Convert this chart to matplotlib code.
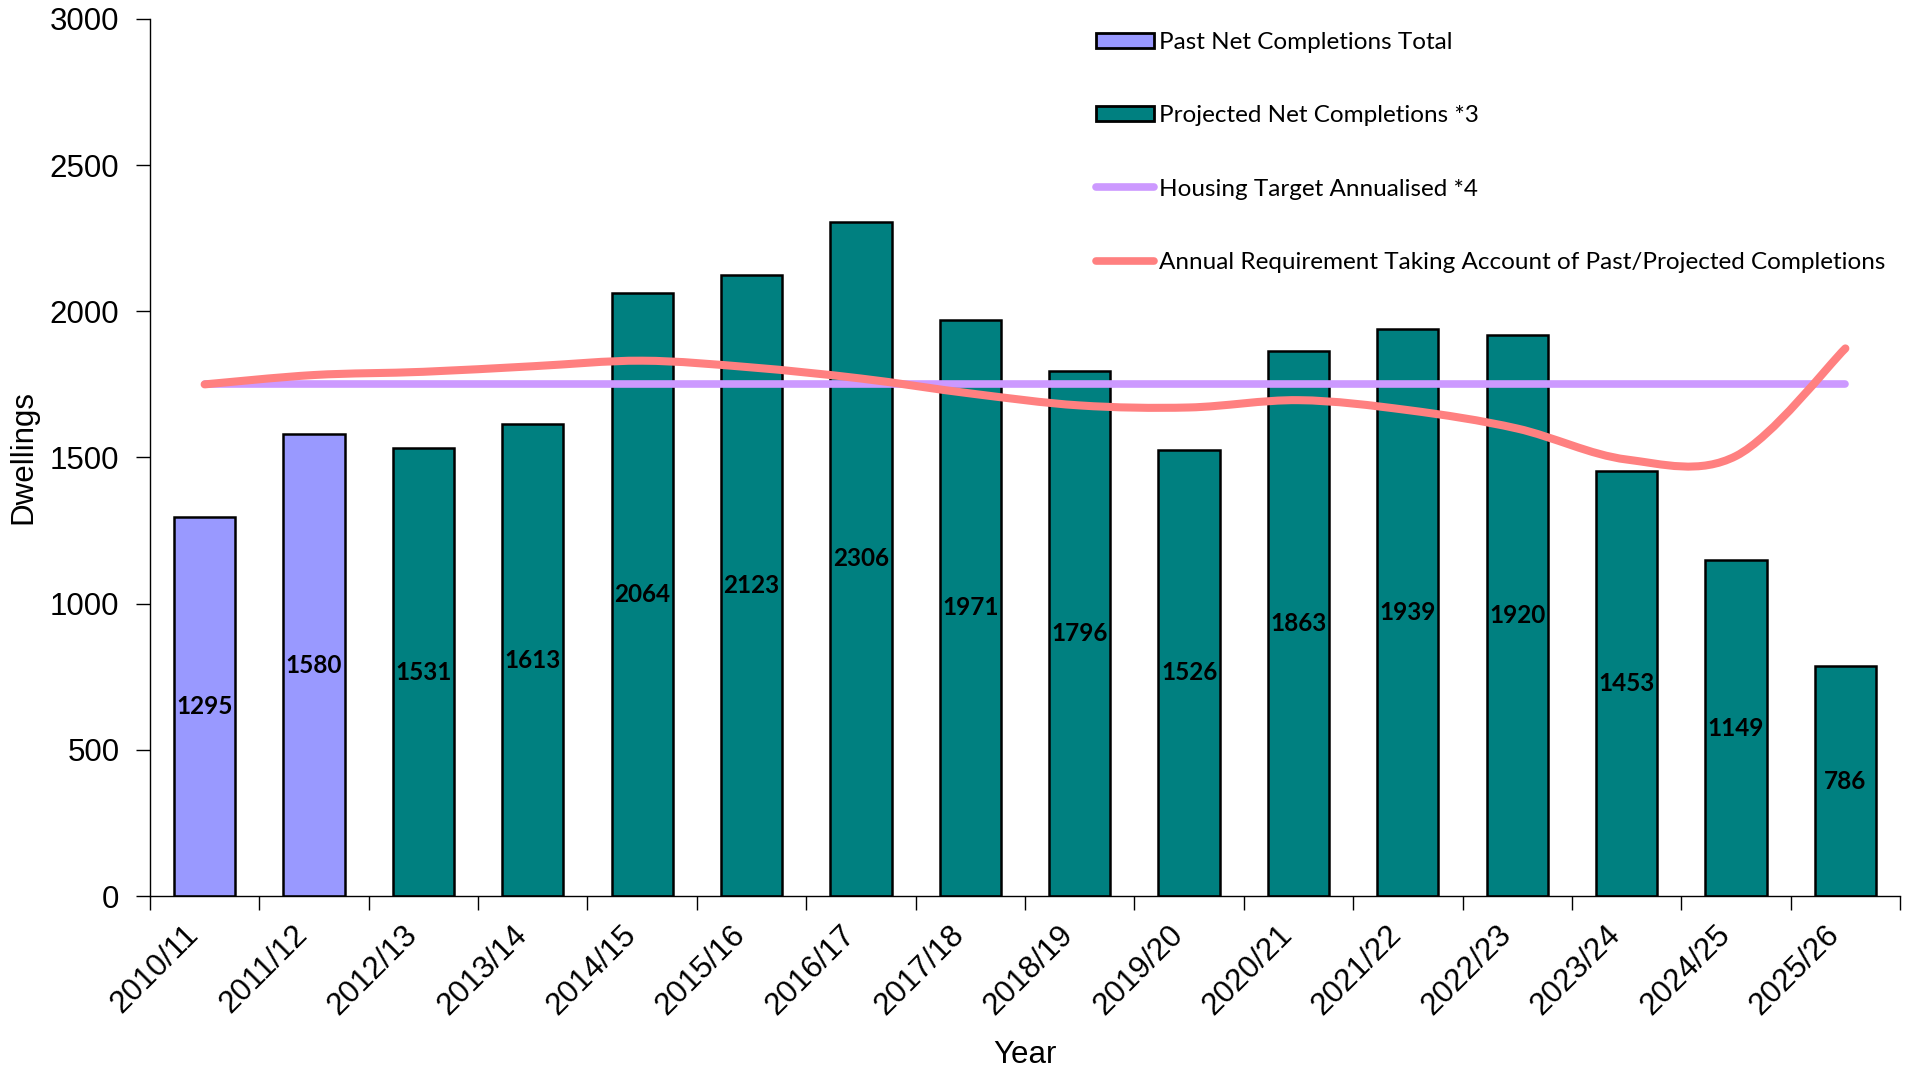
import numpy as np
import matplotlib
matplotlib.use("Agg")
import matplotlib.pyplot as plt
from matplotlib.path import Path
from matplotlib.patches import PathPatch, Patch
from matplotlib.lines import Line2D

# chart data
years = ["2010/11", "2011/12", "2012/13", "2013/14", "2014/15", "2015/16",
         "2016/17", "2017/18", "2018/19", "2019/20", "2020/21", "2021/22",
         "2022/23", "2023/24", "2024/25", "2025/26"]
completions = [1295, 1580, 1531, 1613, 2064, 2123, 2306, 1971, 1796, 1526,
               1863, 1939, 1920, 1453, 1149, 786]
# first two years are past completions, rest projected
n_past = 2
housing_target = [1750] * 16
annual_requirement = [1750, 1782, 1793, 1812, 1831, 1808, 1770, 1719, 1678,
                      1671, 1696, 1662, 1599, 1493, 1505, 1873]

past_color = "#9999FF"
proj_color = "#008080"
target_color = "#CC99FF"
req_color = "#FF8080"

label_font = "Lato"
axis_font = "Liberation Sans"

fig = plt.figure(figsize=(19.10, 10.74), dpi=100)
ax = fig.add_axes([0.0785, 0.1657, 0.9163, 0.8167])

x = np.arange(len(years))
colors = [past_color if i < n_past else proj_color for i in range(len(years))]
bars = ax.bar(x, completions, width=0.56, color=colors, edgecolor="black",
              linewidth=1.8, zorder=2)

# value labels in the middle of each bar
for xi, v in zip(x, completions):
    ax.text(xi, v / 2, str(v), ha="center", va="center", fontsize=17.5,
            fontweight="bold", family=label_font, color="black", zorder=5)

# housing target, flat line
ax.plot(x, housing_target, color=target_color, linewidth=5.5,
        solid_capstyle="round", zorder=3)

# smoothed line like a spreadsheet "smooth line" (Catmull-Rom bezier)
pts = np.column_stack([x, annual_requirement]).astype(float)
verts = [tuple(pts[0])]
codes = [Path.MOVETO]
n = len(pts)
for i in range(n - 1):
    p0 = pts[max(i - 1, 0)]
    p1 = pts[i]
    p2 = pts[i + 1]
    p3 = pts[min(i + 2, n - 1)]
    c1 = p1 + (p2 - p0) / 6.0
    c2 = p2 - (p3 - p1) / 6.0
    verts += [tuple(c1), tuple(c2), tuple(p2)]
    codes += [Path.CURVE4, Path.CURVE4, Path.CURVE4]
curve = PathPatch(Path(verts, codes), facecolor="none", edgecolor=req_color,
                  linewidth=5.8, capstyle="round", zorder=4)
ax.add_patch(curve)

ax.set_xlim(-0.5, len(years) - 0.5)
ax.set_ylim(0, 3000)
ax.set_yticks(np.arange(0, 3001, 500))
ax.set_yticklabels([str(v) for v in range(0, 3001, 500)], family=axis_font,
                   fontsize=22.5)

# ticks at the category boundaries, labels at the centres
ax.set_xticks(np.arange(-0.5, len(years)), minor=False)
ax.set_xticklabels([])
ax.set_xticks(x, minor=True)
ax.set_xticklabels(years, minor=True, rotation=45, ha="right", va="top",
                   family=axis_font, fontsize=22.5)
ax.tick_params(axis="x", which="major", direction="out", length=10, width=1)
ax.tick_params(axis="x", which="minor", length=0, pad=17)
ax.tick_params(axis="y", direction="out", length=10, width=1, pad=12)

for side in ["top", "right"]:
    ax.spines[side].set_visible(False)
for side in ["left", "bottom"]:
    ax.spines[side].set_linewidth(1)

ax.set_xlabel("Year", family=axis_font, fontsize=22.5, labelpad=14)
ax.set_ylabel("Dwellings", family=axis_font, fontsize=22.5, labelpad=8)

handles = [
    Patch(facecolor=past_color, edgecolor="black", linewidth=2),
    Patch(facecolor=proj_color, edgecolor="black", linewidth=2),
    Line2D([], [], color=target_color, linewidth=5.5, solid_capstyle="round"),
    Line2D([], [], color=req_color, linewidth=5.5, solid_capstyle="round"),
]
labels = ["Past Net Completions Total", "Projected Net Completions *3",
          "Housing Target Annualised *4",
          "Annual Requirement Taking Account of Past/Projected Completions"]
ax.legend(handles, labels, loc="upper left", bbox_to_anchor=(1096 / 1910, 1 - 32 / 1074),
          bbox_transform=fig.transFigure, frameon=False, prop={"family": label_font, "size": 17.5},
          handlelength=2.4, handleheight=0.6, handletextpad=0.2, labelspacing=2.15,
          borderaxespad=0, borderpad=0)

fig.savefig("out.png", dpi=100)
